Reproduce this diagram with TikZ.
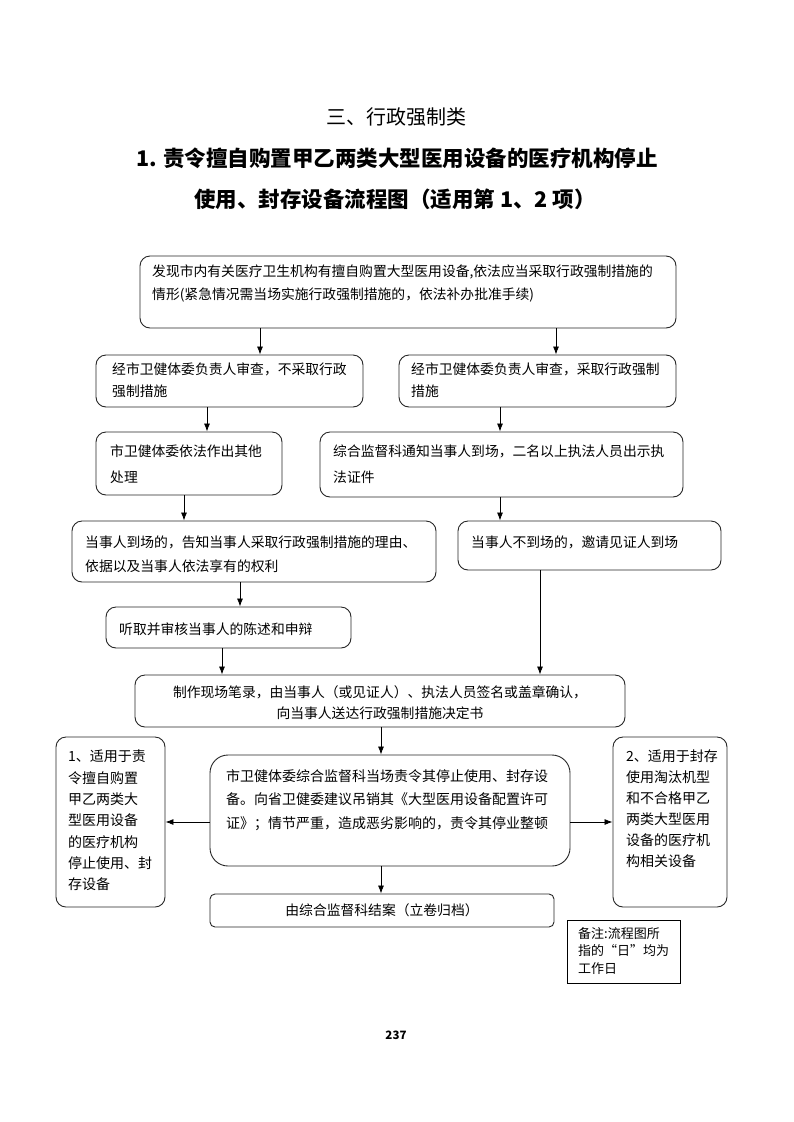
\documentclass[tikz,border=0pt]{standalone}
\usepackage{fontspec}
\setmainfont{Noto Sans CJK SC}
\usetikzlibrary{arrows.meta,calc}
\begin{document}
\begin{tikzpicture}[x=1pt,y=-1pt,
  box/.style={draw=black!85, line width=0.9pt, rounded corners=10pt, inner sep=0pt},
  txt/.style={anchor=north west, inner sep=0pt, align=left, font=\fontsize{13.8}{23}\selectfont},
  ctxt/.style={anchor=center, inner sep=0pt, align=center, font=\fontsize{13.8}{21}\selectfont},
  arr/.style={-{Latex[length=8pt,width=6pt]}, line width=0.8pt}]
\useasboundingbox[fill=white] (0,0) rectangle (793,1122);

% titles
\node[font=\fontsize{20}{24}\selectfont] (t1) at (396,117) {三、行政强制类};
\node[font=\bfseries\fontsize{21.5}{24}\selectfont] (t2) at (397,158) {1. 责令擅自购置甲乙两类大型医用设备的医疗机构停止};
\node[font=\bfseries\fontsize{21.5}{24}\selectfont] (t3) at (395,199) {使用、封存设备流程图（适用第 1、2 项）};

% boxes
\node[box, minimum width=536pt, minimum height=72pt] (n1) at (408,292) {};
\node[box, minimum width=267pt, minimum height=52pt] (l2) at (229.5,381) {};
\node[box, minimum width=277pt, minimum height=52pt] (r2) at (537.5,381) {};
\node[box, minimum width=186pt, minimum height=63pt] (l3) at (189,463.5) {};
\node[box, minimum width=363pt, minimum height=65pt] (r3) at (501.5,464.5) {};
\node[box, minimum width=364pt, minimum height=61pt] (l4) at (254,551.5) {};
\node[box, minimum width=263pt, minimum height=49pt] (r4) at (589.5,545.5) {};
\node[box, minimum width=245pt, minimum height=41pt] (l5) at (228.5,627.5) {};
\node[box, minimum width=490pt, minimum height=52pt] (b6) at (380,701) {};
\node[box, minimum width=360pt, minimum height=111pt, rounded corners=18pt] (b7) at (390,810.5) {};
\node[box, minimum width=109pt, minimum height=170pt] (ls) at (110.5,822) {};
\node[box, minimum width=114pt, minimum height=170pt] (rs) at (670,822) {};
\node[box, minimum width=344pt, minimum height=33pt, rounded corners=5pt] (b8) at (382,910.5) {};
\node[draw=black, line width=1pt, inner sep=0pt, minimum width=113pt, minimum height=63pt] (nt) at (623.5,951.5) {};

% texts
\node[txt] (n1t) at (152,265) {发现市内有关医疗卫生机构有擅自购置大型医用设备,依法应当采取行政强制措施的\\情形(紧急情况需当场实施行政强制措施的，依法补办批准手续)};
\node[txt, font=\fontsize{13.8}{22}\selectfont] (l2t) at (112,363) {经市卫健体委负责人审查，不采取行政\\强制措施};
\node[txt, font=\fontsize{13.8}{22}\selectfont] (r2t) at (411,363) {经市卫健体委负责人审查，采取行政强制\\措施};
\node[txt, font=\fontsize{13.8}{26}\selectfont] (l3t) at (110,445) {市卫健体委依法作出其他\\处理};
\node[txt, font=\fontsize{13.8}{26}\selectfont] (r3t) at (333,445) {综合监督科通知当事人到场，二名以上执法人员出示执\\法证件};
\node[txt, font=\fontsize{13.8}{24}\selectfont] (l4t) at (85,536) {当事人到场的，告知当事人采取行政强制措施的理由、\\依据以及当事人依法享有的权利};
\node[txt] (r4t) at (471,536) {当事人不到场的，邀请见证人到场};
\node[txt] (l5t) at (119,623) {听取并审核当事人的陈述和申辩};
\node[ctxt] (b6t) at (380,702.5) {制作现场笔录，由当事人（或见证人）、执法人员签名或盖章确认，\\向当事人送达行政强制措施决定书};
\node[txt, font=\fontsize{14}{23.5}\selectfont] (b7t) at (226,769) {市卫健体委综合监督科当场责令其停止使用、封存设\\备。向省卫健委建议吊销其《大型医用设备配置许可\\证》；情节严重，造成恶劣影响的，责令其停业整顿};
\node[txt, font=\fontsize{14}{21.3}\selectfont] (lst) at (68,750) {1、适用于责\\令擅自购置\\甲乙两类大\\型医用设备\\的医疗机构\\停止使用、封\\存设备};
\node[txt, font=\fontsize{14}{21}\selectfont] (rst) at (626,750) {2、适用于封存\\使用淘汰机型\\和不合格甲乙\\两类大型医用\\设备的医疗机\\构相关设备};
\node[ctxt] (b8t) at (382,910.5) {由综合监督科结案（立卷归档）};
\node[txt, font=\fontsize{13}{17.5}\selectfont] (ntt) at (578,927) {备注:流程图所\\指的“日”均为\\工作日};

\node[font=\bfseries\fontsize{11.5}{13}\selectfont] (pg) at (396,1035) {237};

% arrow x positions
\coordinate (xa) at (260,0);
\coordinate (xb) at (556,0);
\coordinate (xc) at (207,0);
\coordinate (xd) at (500,0);
\coordinate (xe) at (184,0);
\coordinate (xf) at (240,0);
\coordinate (xg) at (222,0);
\coordinate (xh) at (540,0);
\coordinate (xi) at (381,0);
\coordinate (ym) at (0,822);

\draw[arr] (n1.south -| xa) -- (l2.north -| xa);
\draw[arr] (n1.south -| xb) -- (r2.north -| xb);
\draw[arr] (l2.south -| xc) -- (l3.north -| xc);
\draw[arr] (r2.south -| xd) -- (r3.north -| xd);
\draw[arr] (l3.south -| xe) -- (l4.north -| xe);
\draw[arr] (r3.south -| xd) -- (r4.north -| xd);
\draw[arr] (l4.south -| xf) -- (l5.north -| xf);
\draw[arr] (l5.south -| xg) -- (b6.north -| xg);
\draw[arr] (r4.south -| xh) -- (b6.north -| xh);
\draw[arr] (b6.south -| xi) -- (b7.north -| xi);
\draw[arr] (b7.south -| xi) -- (b8.north -| xi);
\draw[arr] (b7.west |- ym) -- (ls.east |- ym);
\draw[arr] (b7.east |- ym) -- (rs.west |- ym);
\end{tikzpicture}
\end{document}
